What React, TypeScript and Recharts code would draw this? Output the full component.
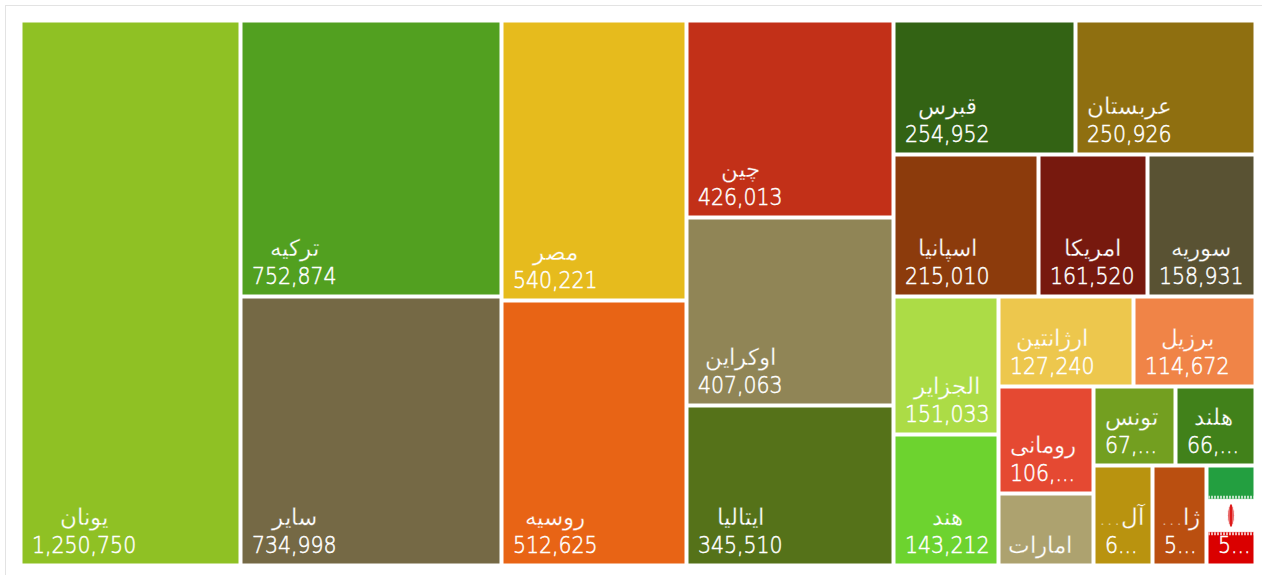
import React from 'react';
import { Treemap } from 'recharts';

const countries = [
  'یونان', 'ترکیه', 'سایر', 'مصر', 'روسیه', 'چین', 'اوکراین', 'ایتالیا',
  'قبرس', 'عربستان', 'اسپانیا', 'امریکا', 'سوریه', 'الجزایر', 'هند', 'ارژانتین',
  'برزیل', 'رومانی', 'امارات', 'تونس', 'هلند', 'آلمان', 'ژاپن', 'ایران',
];
const amounts = [
  1250750, 752874, 734998, 540221, 512625, 426013, 407063, 345510,
  254952, 250926, 215010, 161520, 158931, 151033, 143212, 127240,
  114672, 106000, 72500, 67500, 66900, 61300, 56000, 52900,
];
// what the cells actually show, the small ones get cut off
const nameLabels = [
  'یونان', 'ترکیه', 'سایر', 'مصر', 'روسیه', 'چین', 'اوکراین', 'ایتالیا',
  'قبرس', 'عربستان', 'اسپانیا', 'امریکا', 'سوریه', 'الجزایر', 'هند', 'ارژانتین',
  'برزیل', 'رومانی', 'امارات', 'تونس', 'هلند', 'آل...', 'ژا...', '',
];
const amountLabels = [
  '1,250,750', '752,874', '734,998', '540,221', '512,625', '426,013', '407,063', '345,510',
  '254,952', '250,926', '215,010', '161,520', '158,931', '151,033', '143,212', '127,240',
  '114,672', '106,...', '', '67,...', '66,...', '6...', '5...', '5...',
];
const colors = [
  '#8fc124', '#52a020', '#756945', '#e6bb1d', '#e86415', '#c23018', '#908556', '#557219',
  '#336314', '#8f6f10', '#8c3b0c', '#77190e', '#595233', '#acdc46', '#6dd32f', '#edc74d',
  '#f08447', '#e54932', '#ada26f', '#739f20', '#41811a', '#b9930f', '#ba4f10', '#ffffff',
];

const treeData = countries.map((name, i) => ({
  name,
  size: amounts[i],
  color: colors[i],
  nameLabel: nameLabels[i],
  amountLabel: amountLabels[i],
}));

const FONT = '"DejaVu Sans", sans-serif';
const FONT_SIZE = 23;
const H_SCALE = 0.89; // the reference digits are narrower than DejaVu's regular face

// rough width of the number line, the name gets centred over it
const labelWidth = (s: string) =>
  [...s].reduce((sum, c) => sum + (c === ',' || c === '.' ? 0.318 : 0.636) * FONT_SIZE * H_SCALE, 0);

const Cell = (props: any) => {
  const { x, y, width, height, color, name, nameLabel, amountLabel } = props;
  if (!name || !amountLabel && !nameLabel) return null;
  const w = width - 3;
  const h = height - 3;
  const bottom = y + h;
  const textW = amountLabel ? labelWidth(amountLabel) : 60;
  const cx = x + 10 + textW / 2;
  const isFlag = name === 'ایران';
  return (
    <g>
      <rect x={x} y={y} width={w} height={h} fill={color} />
      {isFlag && (
        <g>
          <rect x={x} y={y} width={w} height={h / 3} fill="#239f40" />
          <rect x={x} y={y + (h * 2) / 3} width={w} height={h / 3} fill="#da0000" />
          <line x1={x} x2={x + w} y1={y + h / 3 - 2} y2={y + h / 3 - 2} stroke="#bfe3c7" strokeWidth={3} strokeDasharray="2 1" />
          <line x1={x} x2={x + w} y1={y + (h * 2) / 3 + 2} y2={y + (h * 2) / 3 + 2} stroke="#f2b3b3" strokeWidth={3} strokeDasharray="2 1" />
          <ellipse cx={x + w / 2} cy={y + h / 2} rx={3.5} ry={11} fill="#da0000" opacity={0.6} />
          <line x1={x + w / 2} x2={x + w / 2} y1={y + h / 2 - 11} y2={y + h / 2 + 11} stroke="#da0000" strokeWidth={1.5} />
        </g>
      )}
      {nameLabel && (
        <text
          transform={`translate(${cx} ${amountLabel ? bottom - 39 : bottom - 11})`}
          textAnchor="middle"
          direction="rtl"
          fill="#fff"
          stroke={color}
          strokeWidth={0.3}
          fontSize={FONT_SIZE}
          fontWeight={200}
          fontFamily={FONT}
        >
          {nameLabel}
        </text>
      )}
      {amountLabel && (
        <text
          transform={`translate(${cx} ${bottom - 11}) scale(${H_SCALE} 1)`}
          textAnchor="middle"
          fill="#fff"
          stroke="#fff"
          strokeWidth={0.5}
          fontSize={FONT_SIZE}
          fontWeight={200}
          fontFamily={FONT}
        >
          {amountLabel}
        </text>
      )}
    </g>
  );
};

export default function App() {
  return (
    <div style={{ position: 'fixed', left: 0, top: 0, width: 1262, height: 575, overflow: 'hidden', background: '#fff' }}>
      <div style={{ position: 'absolute', left: 5, top: 5, width: 1300, height: 620, border: '1px solid #e3e3e3' }} />
      <div style={{ position: 'absolute', left: 22, top: 22 }}>
        <Treemap
          width={1235}
          height={545}
          data={treeData}
          dataKey="size"
          nameKey="name"
          type="flat"
          aspectRatio={0.83}
          stroke="#fff"
          isAnimationActive={false}
          isUpdateAnimationActive={false}
          content={<Cell />}
        />
      </div>
    </div>
  );
}
